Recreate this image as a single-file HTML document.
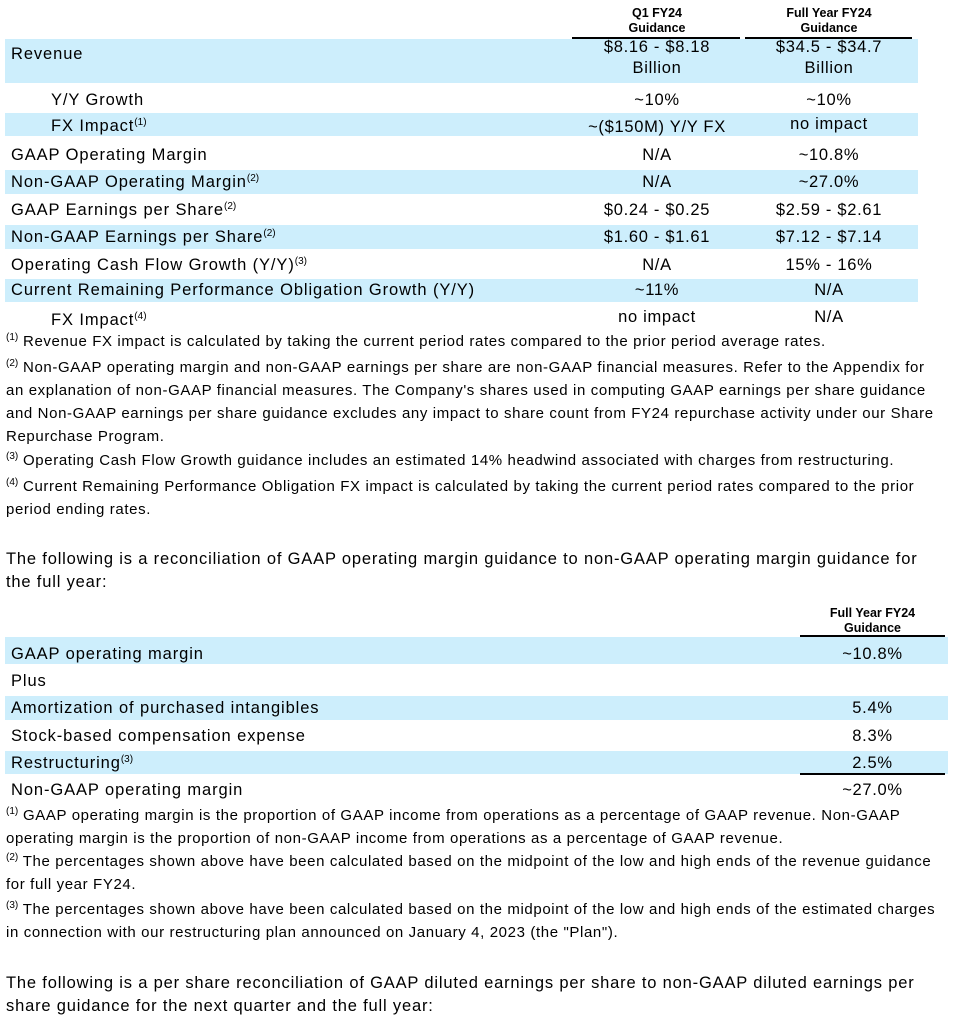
<!DOCTYPE html>
<html><head><meta charset="utf-8"><style>
body{margin:0;width:953px;height:1023px;background:#fff;position:relative;font-family:"Liberation Sans",Arial,sans-serif;color:#000;overflow:hidden}
.a{position:absolute;white-space:nowrap;font-size:16.5px;letter-spacing:0.9px;line-height:18px}
.band{position:absolute;background:#cdeefc}
.c{position:absolute;text-align:center;font-size:16.5px;letter-spacing:0.7px;line-height:18px;white-space:nowrap}
.h{position:absolute;text-align:center;font-size:12.5px;font-weight:bold;line-height:15px}
.ln{position:absolute;height:2px;background:#000}
.f{position:absolute;font-size:15px;letter-spacing:0.62px;line-height:23px;left:6px;white-space:nowrap}
.p{position:absolute;font-size:16.5px;letter-spacing:0.82px;line-height:23px;left:6px;white-space:nowrap}
sup{font-size:10px;vertical-align:6px;line-height:0;letter-spacing:0}
</style></head><body>
<div class="h" style="left:572px;width:170px;top:6px">Q1 FY24<br>Guidance</div>
<div class="h" style="left:745px;width:168px;top:6px">Full Year FY24<br>Guidance</div>
<div class="ln" style="left:572px;width:168px;top:37px"></div>
<div class="ln" style="left:745px;width:167px;top:37px"></div>
<div class="band" style="left:5px;width:913px;top:39px;height:44px"></div>
<div class="band" style="left:5px;width:913px;top:113px;height:23px"></div>
<div class="band" style="left:5px;width:913px;top:170px;height:24px"></div>
<div class="band" style="left:5px;width:913px;top:225px;height:24px"></div>
<div class="band" style="left:5px;width:913px;top:279px;height:23px"></div>

<div class="a" style="left:11px;top:45px">Revenue</div>
<div class="c" style="left:572px;width:170px;top:37px;line-height:21px">$8.16 - $8.18<br>Billion</div>
<div class="c" style="left:745px;width:168px;top:37px;line-height:21px">$34.5 - $34.7<br>Billion</div>
<div class="a" style="left:51px;top:91px">Y/Y Growth</div>
<div class="c" style="left:572px;width:170px;top:91px">~10%</div>
<div class="c" style="left:745px;width:168px;top:91px">~10%</div>
<div class="a" style="left:51px;top:117px">FX Impact<sup>(1)</sup></div>
<div class="c" style="left:572px;width:170px;top:118px">~($150M) Y/Y FX</div>
<div class="c" style="left:745px;width:168px;top:115px">no impact</div>
<div class="a" style="left:11px;top:146px">GAAP Operating Margin</div>
<div class="c" style="left:572px;width:170px;top:146px">N/A</div>
<div class="c" style="left:745px;width:168px;top:146px">~10.8%</div>
<div class="a" style="left:11px;top:173px">Non-GAAP Operating Margin<sup>(2)</sup></div>
<div class="c" style="left:572px;width:170px;top:173px">N/A</div>
<div class="c" style="left:745px;width:168px;top:173px">~27.0%</div>
<div class="a" style="left:11px;top:201px">GAAP Earnings per Share<sup>(2)</sup></div>
<div class="c" style="left:572px;width:170px;top:201px">$0.24 - $0.25</div>
<div class="c" style="left:745px;width:168px;top:201px">$2.59 - $2.61</div>
<div class="a" style="left:11px;top:228px">Non-GAAP Earnings per Share<sup>(2)</sup></div>
<div class="c" style="left:572px;width:170px;top:228px">$1.60 - $1.61</div>
<div class="c" style="left:745px;width:168px;top:228px">$7.12 - $7.14</div>
<div class="a" style="left:11px;top:256px">Operating Cash Flow Growth (Y/Y)<sup>(3)</sup></div>
<div class="c" style="left:572px;width:170px;top:256px">N/A</div>
<div class="c" style="left:745px;width:168px;top:256px">15% - 16%</div>
<div class="a" style="left:11px;top:281px">Current Remaining Performance Obligation Growth (Y/Y)</div>
<div class="c" style="left:572px;width:170px;top:281px">~11%</div>
<div class="c" style="left:745px;width:168px;top:281px">N/A</div>
<div class="a" style="left:51px;top:311px">FX Impact<sup>(4)</sup></div>
<div class="c" style="left:572px;width:170px;top:308px">no impact</div>
<div class="c" style="left:745px;width:168px;top:308px">N/A</div>

<div class="f" style="top:330px"><sup>(1)</sup> Revenue FX impact is calculated by taking the current period rates compared to the prior period average rates.</div>
<div class="f" style="top:356px"><sup>(2)</sup> Non-GAAP operating margin and non-GAAP earnings per share are non-GAAP financial measures. Refer to the Appendix for<br>an explanation of non-GAAP financial measures. The Company's shares used in computing GAAP earnings per share guidance<br>and Non-GAAP earnings per share guidance excludes any impact to share count from FY24 repurchase activity under our Share<br>Repurchase Program.</div>
<div class="f" style="top:449px"><sup>(3)</sup> Operating Cash Flow Growth guidance includes an estimated 14% headwind associated with charges from restructuring.</div>
<div class="f" style="top:475px"><sup>(4)</sup> Current Remaining Performance Obligation FX impact is calculated by taking the current period rates compared to the prior<br>period ending rates.</div>

<div class="p" style="top:548px">The following is a reconciliation of GAAP operating margin guidance to non-GAAP operating margin guidance for<br>the full year:</div>

<div class="h" style="left:800px;width:145px;top:606px">Full Year FY24<br>Guidance</div>
<div class="ln" style="left:800px;width:145px;top:635px"></div>
<div class="band" style="left:5px;width:943px;top:637px;height:27px"></div>
<div class="band" style="left:5px;width:943px;top:696px;height:24px"></div>
<div class="band" style="left:5px;width:943px;top:751px;height:23px"></div>
<div class="a" style="left:11px;top:645px">GAAP operating margin</div>
<div class="c" style="left:800px;width:145px;top:645px">~10.8%</div>
<div class="a" style="left:11px;top:672px">Plus</div>
<div class="a" style="left:11px;top:699px">Amortization of purchased intangibles</div>
<div class="c" style="left:800px;width:145px;top:699px">5.4%</div>
<div class="a" style="left:11px;top:727px">Stock-based compensation expense</div>
<div class="c" style="left:800px;width:145px;top:727px">8.3%</div>
<div class="a" style="left:11px;top:754px">Restructuring<sup>(3)</sup></div>
<div class="c" style="left:800px;width:145px;top:754px">2.5%</div>
<div class="ln" style="left:800px;width:145px;top:773px"></div>
<div class="a" style="left:11px;top:781px">Non-GAAP operating margin</div>
<div class="c" style="left:800px;width:145px;top:781px">~27.0%</div>

<div class="f" style="top:804px"><sup>(1)</sup> GAAP operating margin is the proportion of GAAP income from operations as a percentage of GAAP revenue. Non-GAAP<br>operating margin is the proportion of non-GAAP income from operations as a percentage of GAAP revenue.</div>
<div class="f" style="top:850px"><sup>(2)</sup> The percentages shown above have been calculated based on the midpoint of the low and high ends of the revenue guidance<br>for full year FY24.</div>
<div class="f" style="top:898px"><sup>(3)</sup> The percentages shown above have been calculated based on the midpoint of the low and high ends of the estimated charges<br>in connection with our restructuring plan announced on January 4, 2023 (the "Plan").</div>

<div class="p" style="top:972px">The following is a per share reconciliation of GAAP diluted earnings per share to non-GAAP diluted earnings per<br>share guidance for the next quarter and the full year:</div>
</body></html>
